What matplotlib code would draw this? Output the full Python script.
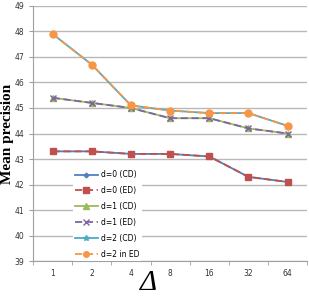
import matplotlib
matplotlib.use("Agg")
import matplotlib.pyplot as plt

categories = ["1", "2", "4", "8", "16", "32", "64"]
d0_cd = [43.3, 43.3, 43.2, 43.2, 43.1, 42.3, 42.1]
d0_ed = [43.3, 43.3, 43.2, 43.2, 43.1, 42.3, 42.1]
d1_cd = [45.4, 45.2, 45.0, 44.6, 44.6, 44.2, 44.0]
d1_ed = [45.4, 45.2, 45.0, 44.6, 44.6, 44.2, 44.0]
d2_cd = [47.9, 46.7, 45.1, 44.9, 44.8, 44.8, 44.3]
d2_ed = [47.9, 46.7, 45.1, 44.9, 44.8, 44.8, 44.3]
labels = ["d=0 (CD)", "d=0 (ED)", "d=1 (CD)", "d=1 (ED)", "d=2 (CD)", "d=2 in ED"]

fig = plt.figure(figsize=(3.09, 2.97), dpi=100)
ax = fig.add_axes([0.107, 0.121, 0.887, 0.859])
x = list(range(len(categories)))

styles = [
    (d0_cd, "#4F81BD", "-", "D", 3, 2),
    (d0_ed, "#C0504D", (0, (4, 2)), "s", 5, 3),
    (d1_cd, "#9BBB59", "-", "^", 5, 4),
    (d1_ed, "#8064A2", (0, (4, 2)), "x", 5, 5),
    (d2_cd, "#4BACC6", "-", "*", 5, 6),
    (d2_ed, "#F79646", (0, (4, 2)), "o", 5, 7),
]
handles = []
for (vals, c, ls, m, ms, z), lab in zip(styles, labels):
    h, = ax.plot(x, vals, color=c, linestyle=ls, marker=m, markersize=ms,
                 linewidth=1.3, zorder=z, label=lab, markeredgecolor=c)
    handles.append(h)

ax.set_xlim(-0.5, 6.5)
ax.set_ylim(39, 49)
ax.set_yticks(range(39, 50))
ax.set_xticks(x)
ax.set_xticklabels(categories)
ax.set_xticks([i - 0.5 for i in range(8)], minor=True)
ax.tick_params(axis="x", which="major", length=0, labelsize=5.5, colors="#333333", pad=6)
ax.tick_params(axis="x", which="minor", length=3, color="#A0A0A0")
ax.tick_params(axis="y", length=3, color="#A0A0A0", labelsize=5.5, labelcolor="#333333")
ax.yaxis.grid(True, color="#B8B8B8", linewidth=1)
ax.set_axisbelow(True)
for s in ["top", "right"]:
    ax.spines[s].set_visible(False)
for s in ["left", "bottom"]:
    ax.spines[s].set_color("#A0A0A0")

ax.set_ylabel("Mean precision", family="Liberation Serif", fontweight="bold", fontsize=11,
              va="center")
ax.yaxis.set_label_coords(-0.093, 0.5)
ax.set_xlabel("Δ", family="Liberation Serif", fontstyle="italic", fontsize=21, va="center")
ax.xaxis.set_label_coords(0.42, -0.085)

leg = ax.legend(handles=handles, loc="upper left", bbox_to_anchor=(0.13, 0.38),
                frameon=True, fontsize=5.5, handlelength=3, labelspacing=0.9,
                borderpad=0.3, markerscale=0.8, handletextpad=0.4)
leg.get_frame().set_edgecolor("none")
leg.get_frame().set_facecolor("white")
leg.get_frame().set_alpha(1)

fig.savefig("out.png", dpi=100)
